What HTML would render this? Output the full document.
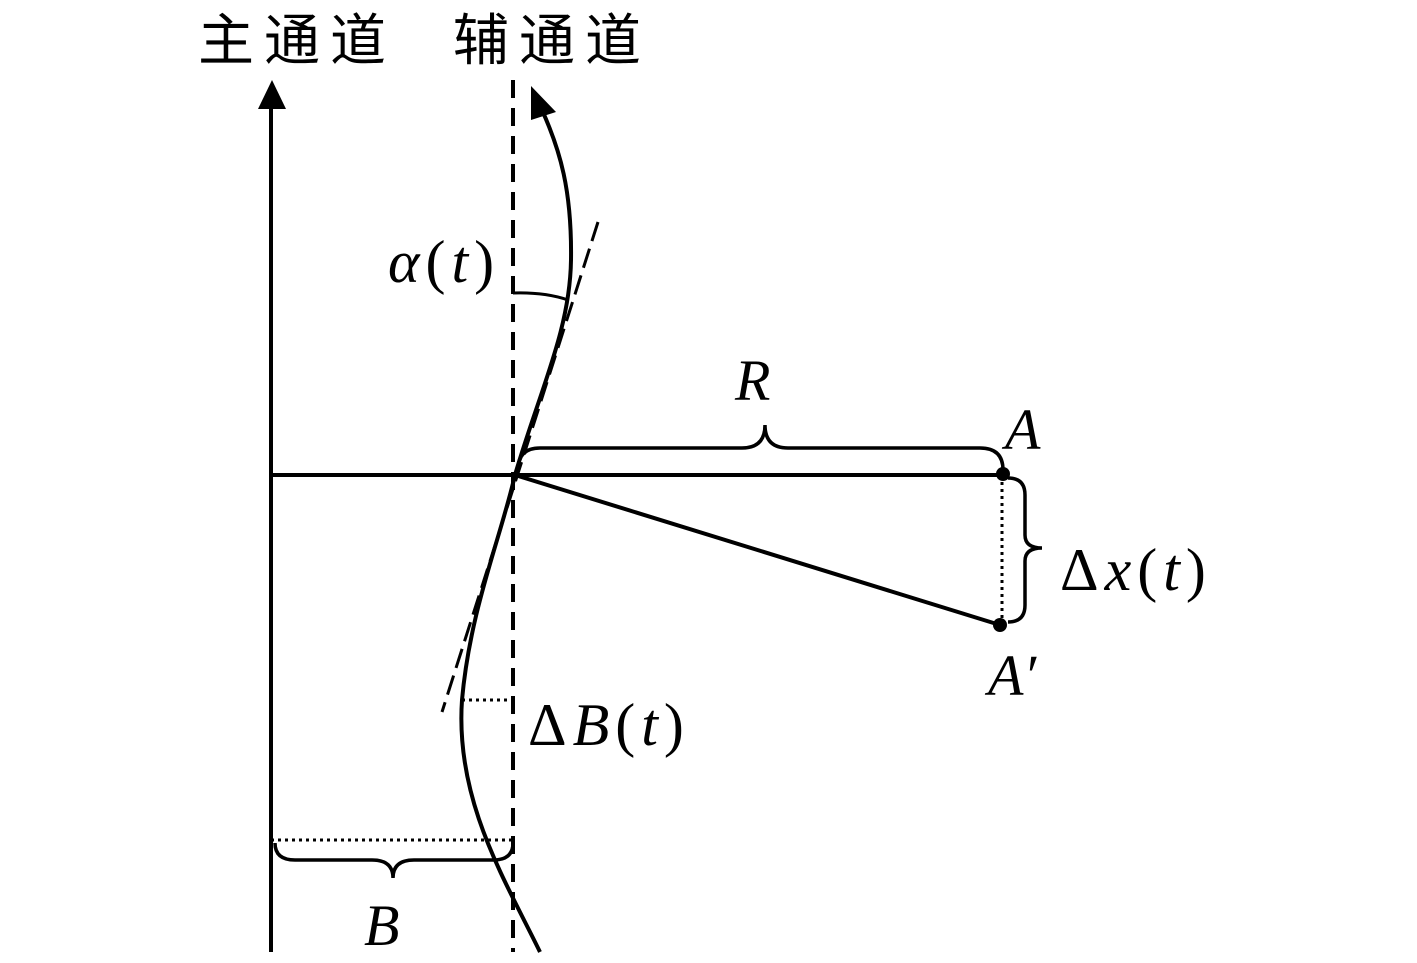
<!DOCTYPE html>
<html><head><meta charset="utf-8"><style>
html,body{margin:0;padding:0;background:#fff;}
svg{display:block;}
text{font-family:"Liberation Serif",serif;font-style:italic;fill:#000;}
.cjk{font-family:"Liberation Sans","Noto Sans CJK SC",sans-serif;font-style:normal;letter-spacing:10px;}
.m{letter-spacing:6px;}
</style></head><body>
<svg width="1417" height="963" viewBox="0 0 1417 963" xmlns="http://www.w3.org/2000/svg">
<g fill="none" stroke="#000" stroke-width="4">
<line x1="271" y1="105" x2="271" y2="952"/>
<line x1="513" y1="80" x2="513" y2="952" stroke-dasharray="18,10"/>
<path d="M540 952 C505 880 455 800 462 700 C470 610 500 540 515 475 C540 390 570 330 571 260 C572 190 560 150 542 110"/>
<line x1="598" y1="222" x2="442" y2="712" stroke-dasharray="20,8" stroke-width="3"/>
<path d="M513 293 Q545 292 568 300" stroke-width="3"/>
<line x1="271" y1="475" x2="1003" y2="475"/>
<line x1="515" y1="475" x2="1000" y2="625"/>
<line x1="1002" y1="475" x2="1002" y2="625" stroke-dasharray="3,4" stroke-width="3"/>
<line x1="462" y1="700" x2="513" y2="700" stroke-dasharray="3,4" stroke-width="3"/>
<line x1="271" y1="840" x2="513" y2="840" stroke-dasharray="3,4" stroke-width="3"/>
<path d="M518 470 Q518 448 540 448 L742 448 Q765 448 765 425 Q765 448 788 448 L980 448 Q1003 448 1003 470" stroke-width="3.5"/>
<path d="M1008 478 Q1025 478 1025 495 L1025 535 Q1025 548 1042 548 Q1025 548 1025 561 L1025 605 Q1025 622 1008 622" stroke-width="3.5"/>
<path d="M275 843 Q275 860 295 860 L372 860 Q393 860 393 878 Q393 860 414 860 L493 860 Q513 860 513 843" stroke-width="3.5"/>
</g>
<polygon points="272,80 258,109 286,109" fill="#000"/>
<polygon points="531,86 531,120 556,112" fill="#000"/>
<circle cx="1003" cy="474" r="7" fill="#000"/>
<circle cx="1000" cy="625" r="7" fill="#000"/>
<text class="cjk" x="198" y="60" font-size="56">主通道</text>
<text class="cjk" x="453" y="60" font-size="56">辅通道</text>
<text class="m" x="388" y="282" font-size="60">α<tspan font-style="normal">(</tspan>t<tspan font-style="normal">)</tspan></text>
<text x="735" y="400" font-size="58">R</text>
<text x="1005" y="449" font-size="58">A</text>
<text class="m" x="1060" y="590" font-size="60"><tspan font-style="normal">Δ</tspan>x<tspan font-style="normal">(</tspan>t<tspan font-style="normal">)</tspan></text>
<text x="988" y="695" font-size="58">A′</text>
<text class="m" x="528" y="745" font-size="60"><tspan font-style="normal">Δ</tspan>B<tspan font-style="normal">(</tspan>t<tspan font-style="normal">)</tspan></text>
<text x="364" y="945" font-size="58">B</text>
</svg>
</body></html>
